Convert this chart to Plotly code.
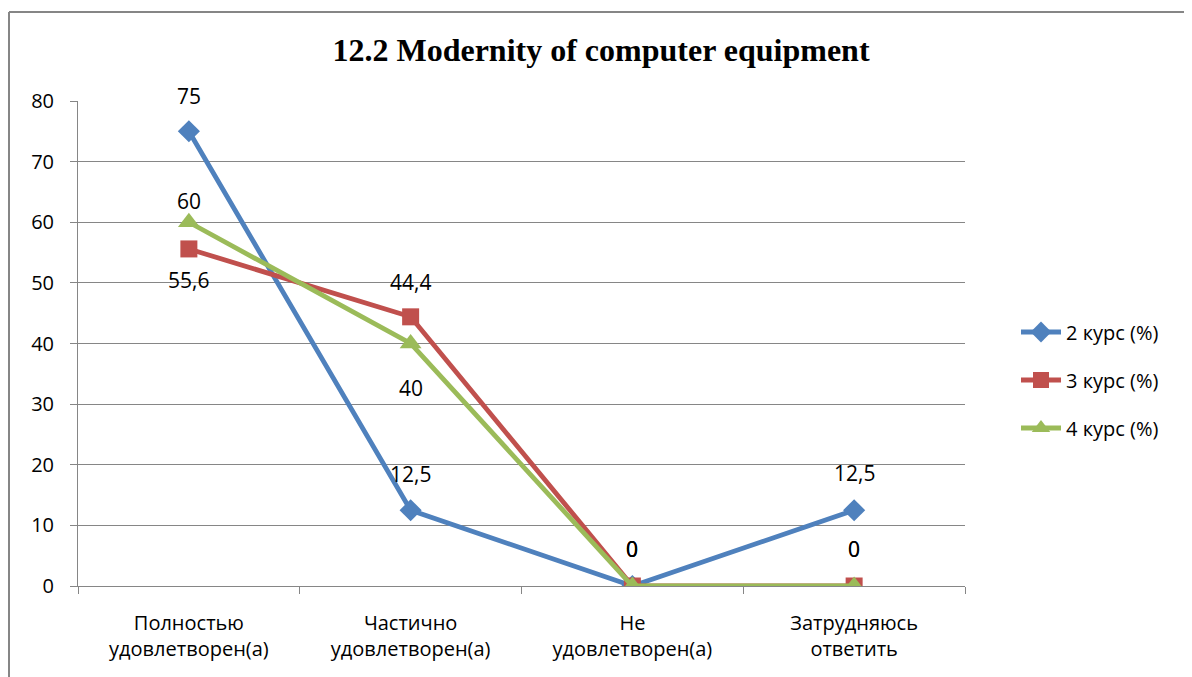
import plotly.graph_objects as go

categories = ["Полностью<br>удовлетворен(а)", "Частично<br>удовлетворен(а)",
              "Не<br>удовлетворен(а)", "Затрудняюсь<br>ответить"]
series_names = ["2 курс (%)", "3 курс (%)", "4 курс (%)"]
values_2 = [75, 12.5, 0, 12.5]
values_3 = [55.6, 44.4, 0, 0]
values_4 = [60, 40, 0, 0]
y_ticks = [0, 10, 20, 30, 40, 50, 60, 70, 80]

colors = ["#4F81BD", "#C0504D", "#9BBB59"]
symbols = ["diamond", "square", "triangle-up"]
msizes = [17, 17, 19]
# label vertical offsets in pixels (style only)
label_shifts = [
    [35, 36, 37, 37],
    [-31, 35, 37, 37],
    [21, -44, 37, 37],
]

# plot area in figure pixels
L, R, T, B = 70, 957, 93, 578
W, H = 1192, 677
pw, ph = R - L, B - T

def fmt(v):
    s = f"{v:g}"
    return s.replace(".", ",")

fig = go.Figure()
all_vals = [values_2, values_3, values_4]
for i, (name, vals, c, s, ms) in enumerate(zip(series_names, all_vals, colors, symbols, msizes)):
    fig.add_trace(go.Scatter(
        x=categories, y=vals, name=name, mode="lines+markers",
        legendgroup=f"g{i}",
        line=dict(color=c, width=4.8),
        marker=dict(symbol=s, size=ms, color=c),
    ))

annotations = []
for vals, shifts in zip(all_vals, label_shifts):
    for cat, v, sh in zip(categories, vals, shifts):
        annotations.append(dict(x=cat, y=v, xref="x", yref="y", text=fmt(v),
                                showarrow=False, yshift=sh,
                                font=dict(family="Open Sans, Liberation Sans, sans-serif", size=21, color="#000")))

fig.update_layout(
    width=W, height=H,
    paper_bgcolor="white", plot_bgcolor="white",
    margin=dict(l=L, r=W - R, t=T, b=H - B),
    title=dict(text="<b>12.2 Modernity of computer equipment</b>",
               x=593 / W, xanchor="center", y=1 - 42 / H, yanchor="middle",
               font=dict(family="Liberation Serif, Times New Roman, serif", size=32, color="#000")),
    font=dict(family="Open Sans, Liberation Sans, sans-serif", size=20, color="#000"),
    showlegend=True,
    legend=dict(x=(1008 - L) / pw, xanchor="left", y=(B - 372) / ph, yanchor="middle",
                font=dict(size=20), tracegroupgap=19, itemwidth=40,
                bgcolor="rgba(0,0,0,0)"),
    annotations=annotations,
)
fig.update_xaxes(range=[-0.5, 3.5], showline=True, linecolor="#868686", linewidth=1,
                 ticks="outside", tickson="boundaries", ticklen=7, tickcolor="#868686",
                 showgrid=False, tickfont=dict(size=20), ticklabelstandoff=19, fixedrange=True)
fig.update_yaxes(range=[0, 80], tickvals=y_ticks, showline=True, linecolor="#868686",
                 linewidth=1, ticks="outside", ticklen=7, tickcolor="#868686",
                 showgrid=True, gridcolor="#868686", gridwidth=1, zeroline=False,
                 tickfont=dict(size=20), ticklabelstandoff=12)

# outer frame (left and top edges)
fx = (1 - L) / pw
fy = (B - 4) / ph
fig.add_shape(type="line", xref="paper", yref="paper",
              x0=fx, x1=fx, y0=fy, y1=(B - 690) / ph,
              line=dict(color="#868686", width=2))
fig.add_shape(type="line", xref="paper", yref="paper",
              x0=fx, x1=(1200 - L) / pw, y0=fy, y1=fy,
              line=dict(color="#868686", width=2))

fig.write_html("out.html")
